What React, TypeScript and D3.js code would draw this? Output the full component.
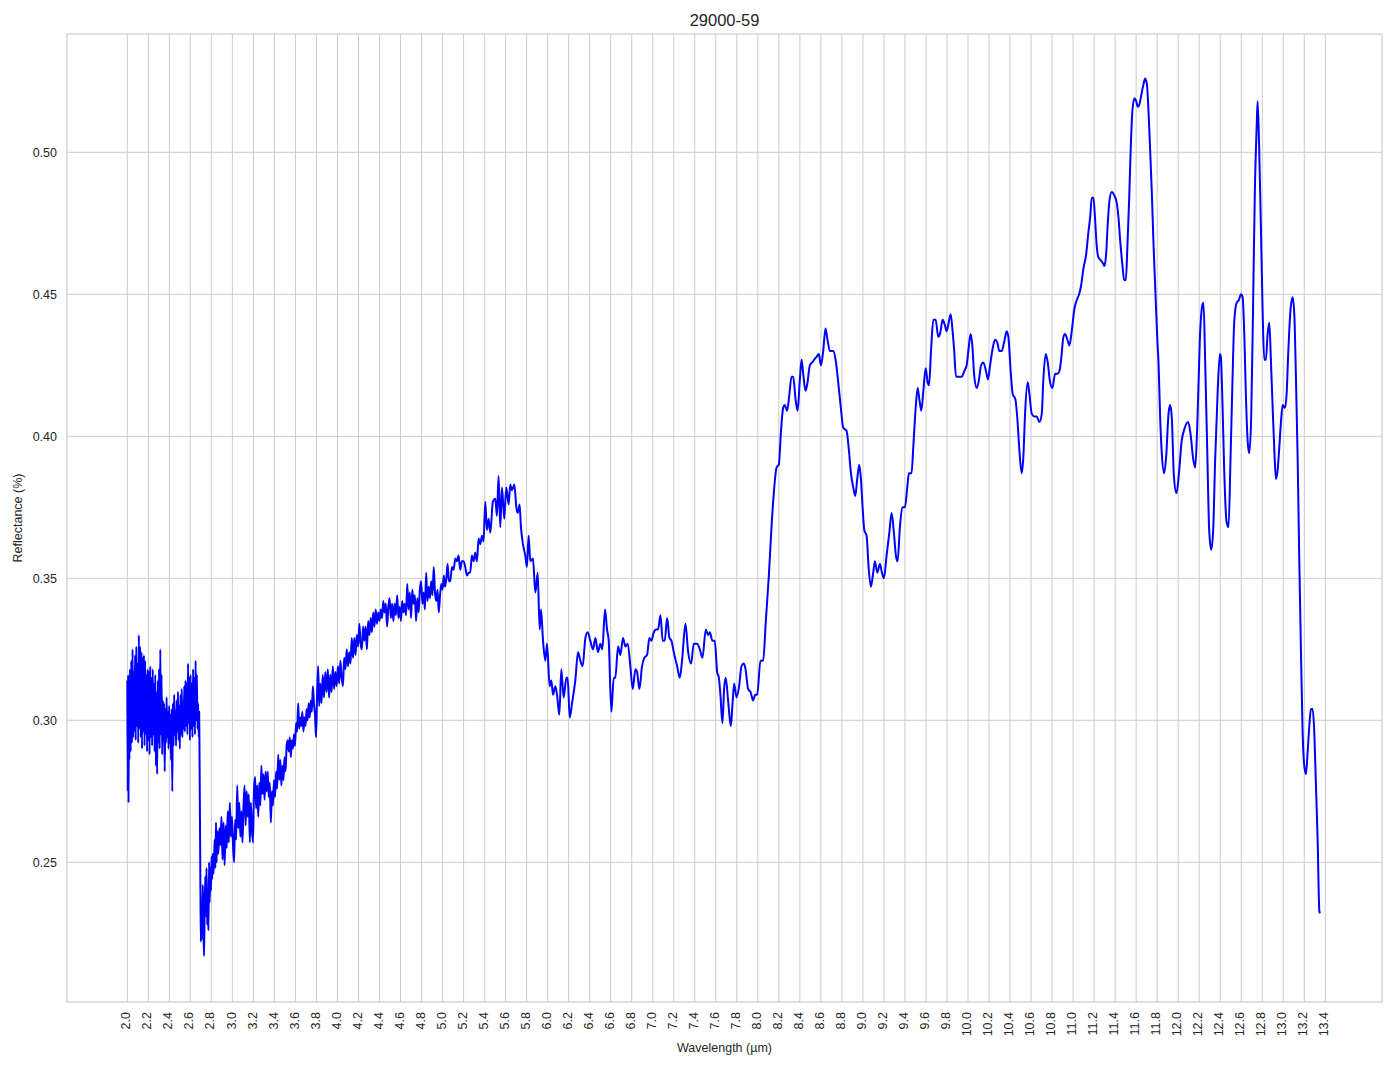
import React, { useEffect, useRef } from 'react';
import * as d3 from 'd3';

// spectrum in pieces: [wavelength µm, reflectance]
const noisyBand: [number, number][] = [
  [2.000, 0.314], [2.004, 0.275], [2.008, 0.316], [2.012, 0.271], [2.016, 0.312], [2.020, 0.286],
  [2.026, 0.318], [2.032, 0.289], [2.038, 0.321], [2.044, 0.292], [2.050, 0.325], [2.056, 0.294],
  [2.062, 0.317], [2.068, 0.296], [2.074, 0.323], [2.080, 0.293], [2.086, 0.326], [2.092, 0.298],
  [2.098, 0.320], [2.104, 0.292], [2.110, 0.330], [2.116, 0.297], [2.122, 0.326], [2.128, 0.294],
  [2.134, 0.324], [2.140, 0.290], [2.146, 0.322], [2.152, 0.296], [2.158, 0.323], [2.164, 0.291],
  [2.170, 0.321], [2.176, 0.295], [2.182, 0.316], [2.188, 0.289], [2.194, 0.318], [2.200, 0.293],
  [2.206, 0.317], [2.212, 0.288], [2.218, 0.319], [2.224, 0.294], [2.230, 0.315], [2.236, 0.291],
  [2.242, 0.318], [2.248, 0.295], [2.254, 0.313], [2.260, 0.289], [2.266, 0.316], [2.272, 0.284],
  [2.278, 0.310], [2.284, 0.281], [2.290, 0.314], [2.296, 0.292], [2.302, 0.318], [2.308, 0.290],
  [2.314, 0.325], [2.320, 0.295], [2.326, 0.316], [2.332, 0.288], [2.338, 0.307], [2.344, 0.293],
  [2.350, 0.306], [2.356, 0.282], [2.362, 0.304], [2.368, 0.292], [2.374, 0.308], [2.380, 0.294],
  [2.386, 0.303], [2.392, 0.290], [2.398, 0.305], [2.404, 0.292], [2.410, 0.302], [2.416, 0.286],
  [2.422, 0.304], [2.428, 0.275], [2.434, 0.306], [2.440, 0.291], [2.446, 0.309], [2.452, 0.295],
  [2.458, 0.303], [2.464, 0.291], [2.470, 0.307], [2.476, 0.296], [2.482, 0.310], [2.488, 0.293],
  [2.494, 0.305], [2.500, 0.290], [2.506, 0.309], [2.512, 0.295], [2.518, 0.311], [2.524, 0.294],
  [2.530, 0.306], [2.536, 0.297], [2.542, 0.312], [2.548, 0.296], [2.554, 0.314], [2.560, 0.298],
  [2.566, 0.313], [2.572, 0.295], [2.578, 0.320], [2.584, 0.299], [2.590, 0.315], [2.596, 0.293],
  [2.602, 0.316], [2.608, 0.297], [2.614, 0.313], [2.620, 0.294], [2.626, 0.318], [2.632, 0.298],
  [2.638, 0.315], [2.644, 0.295], [2.650, 0.321], [2.656, 0.300], [2.662, 0.316], [2.668, 0.297],
  [2.674, 0.306], [2.680, 0.294], [2.684, 0.303], [2.688, 0.284],
];

const absorptionDip: [number, number][] = [
  [2.692, 0.262], [2.696, 0.240], [2.700, 0.222], [2.706, 0.236], [2.712, 0.223], [2.718, 0.242],
  [2.724, 0.229], [2.730, 0.217], [2.736, 0.234], [2.742, 0.245], [2.748, 0.231], [2.754, 0.248],
  [2.760, 0.228], [2.766, 0.240], [2.772, 0.226], [2.778, 0.250], [2.784, 0.236], [2.790, 0.248],
  [2.796, 0.240], [2.802, 0.252], [2.808, 0.244], [2.814, 0.253], [2.820, 0.246], [2.826, 0.251],
  [2.832, 0.258], [2.838, 0.248], [2.844, 0.264], [2.850, 0.250],
];

const risingSlope: [number, number][] = [
  [2.856, 0.261], [2.866, 0.253], [2.876, 0.262], [2.886, 0.256], [2.896, 0.266], [2.906, 0.251],
  [2.916, 0.264], [2.926, 0.249], [2.936, 0.263], [2.946, 0.255], [2.956, 0.268], [2.966, 0.257],
  [2.976, 0.271], [2.986, 0.259], [2.996, 0.266], [3.006, 0.256], [3.016, 0.250], [3.026, 0.265],
  [3.036, 0.258], [3.046, 0.277], [3.056, 0.262], [3.066, 0.271], [3.076, 0.259], [3.086, 0.268],
  [3.096, 0.257], [3.106, 0.270], [3.116, 0.277], [3.126, 0.263], [3.136, 0.275], [3.146, 0.266],
  [3.156, 0.274], [3.166, 0.257], [3.176, 0.271], [3.186, 0.262], [3.196, 0.257], [3.206, 0.276],
  [3.216, 0.280], [3.226, 0.269], [3.236, 0.277], [3.246, 0.266], [3.256, 0.278], [3.266, 0.270],
  [3.276, 0.284], [3.286, 0.274], [3.296, 0.281], [3.306, 0.272], [3.316, 0.282], [3.326, 0.275],
  [3.336, 0.282], [3.346, 0.273], [3.356, 0.278], [3.366, 0.264], [3.376, 0.275], [3.386, 0.270],
  [3.396, 0.279], [3.406, 0.273], [3.416, 0.282], [3.426, 0.276], [3.436, 0.288], [3.446, 0.279],
  [3.456, 0.286], [3.466, 0.277], [3.476, 0.284], [3.486, 0.279], [3.496, 0.287], [3.506, 0.282],
  [3.516, 0.291], [3.526, 0.293], [3.536, 0.289], [3.546, 0.294], [3.556, 0.287], [3.566, 0.293],
  [3.576, 0.290], [3.586, 0.295], [3.596, 0.291], [3.606, 0.299], [3.616, 0.296], [3.626, 0.306],
  [3.636, 0.297], [3.646, 0.301], [3.656, 0.298], [3.666, 0.303], [3.676, 0.296], [3.686, 0.301],
  [3.696, 0.298], [3.706, 0.304], [3.716, 0.300], [3.726, 0.306], [3.736, 0.301], [3.746, 0.307],
  [3.756, 0.303], [3.766, 0.312], [3.776, 0.306], [3.786, 0.302], [3.796, 0.294], [3.806, 0.309],
  [3.816, 0.319], [3.826, 0.305], [3.836, 0.313], [3.848, 0.306], [3.860, 0.316], [3.872, 0.308],
  [3.884, 0.317], [3.896, 0.310], [3.908, 0.318], [3.920, 0.308], [3.932, 0.316], [3.944, 0.310],
  [3.956, 0.319], [3.968, 0.311], [3.980, 0.317], [3.992, 0.312], [4.004, 0.319], [4.016, 0.313],
  [4.028, 0.321], [4.040, 0.315], [4.052, 0.312], [4.064, 0.322], [4.076, 0.318], [4.088, 0.325],
  [4.100, 0.319], [4.112, 0.324], [4.124, 0.320], [4.136, 0.329], [4.148, 0.322], [4.160, 0.329],
  [4.172, 0.323], [4.184, 0.330], [4.196, 0.326], [4.208, 0.334], [4.220, 0.327], [4.232, 0.325],
  [4.244, 0.333], [4.256, 0.328], [4.268, 0.333], [4.280, 0.325], [4.292, 0.335], [4.304, 0.330],
  [4.316, 0.336], [4.328, 0.331], [4.340, 0.338], [4.352, 0.333], [4.364, 0.339], [4.376, 0.334],
  [4.388, 0.338], [4.400, 0.335], [4.412, 0.339], [4.424, 0.336], [4.436, 0.342], [4.448, 0.338],
  [4.460, 0.341], [4.472, 0.333], [4.484, 0.340], [4.496, 0.343], [4.508, 0.336], [4.520, 0.341],
  [4.532, 0.335], [4.544, 0.341], [4.556, 0.337], [4.568, 0.344], [4.580, 0.336], [4.592, 0.340],
  [4.604, 0.335], [4.616, 0.342], [4.628, 0.338], [4.640, 0.341], [4.652, 0.337], [4.664, 0.348],
  [4.676, 0.339], [4.688, 0.345], [4.700, 0.336], [4.712, 0.346], [4.724, 0.341], [4.736, 0.344],
  [4.748, 0.335], [4.760, 0.343], [4.772, 0.338], [4.784, 0.346], [4.796, 0.349], [4.808, 0.341],
  [4.820, 0.345], [4.832, 0.339], [4.844, 0.352], [4.856, 0.342], [4.868, 0.347], [4.880, 0.343],
  [4.892, 0.349], [4.904, 0.344], [4.916, 0.354], [4.928, 0.345], [4.940, 0.342], [4.952, 0.346],
  [4.964, 0.338], [4.976, 0.344], [4.988, 0.348], [5.000, 0.346], [5.012, 0.351], [5.024, 0.347],
  [5.036, 0.350], [5.048, 0.355], [5.060, 0.349], [5.073, 0.349], [5.089, 0.354], [5.105, 0.353],
  [5.121, 0.357], [5.137, 0.356], [5.152, 0.358], [5.168, 0.353], [5.184, 0.356], [5.200, 0.356],
  [5.216, 0.354], [5.232, 0.351], [5.248, 0.352], [5.263, 0.352], [5.279, 0.358], [5.295, 0.356],
  [5.311, 0.359], [5.327, 0.356],
];

const plateauPeak: [number, number][] = [
  [5.343, 0.364], [5.359, 0.362], [5.375, 0.365], [5.390, 0.363], [5.406, 0.377], [5.422, 0.367],
  [5.438, 0.371], [5.454, 0.366], [5.479, 0.377], [5.502, 0.378], [5.517, 0.372], [5.533, 0.386],
  [5.549, 0.368], [5.565, 0.382], [5.587, 0.371], [5.606, 0.382], [5.629, 0.376], [5.644, 0.383],
  [5.660, 0.381], [5.683, 0.383], [5.702, 0.375], [5.717, 0.373], [5.733, 0.376], [5.746, 0.368],
  [5.765, 0.362], [5.787, 0.358], [5.803, 0.354], [5.819, 0.365], [5.835, 0.356], [5.860, 0.357],
  [5.883, 0.345], [5.905, 0.352], [5.924, 0.332], [5.937, 0.339], [5.956, 0.328], [5.978, 0.321],
  [5.994, 0.327],
];

const midRange: [number, number][] = [
  [6.019, 0.312], [6.035, 0.314], [6.051, 0.309], [6.073, 0.312], [6.089, 0.309], [6.111, 0.302],
  [6.130, 0.318], [6.152, 0.308], [6.178, 0.315], [6.190, 0.315], [6.210, 0.301], [6.232, 0.306],
  [6.263, 0.314], [6.289, 0.324], [6.311, 0.321], [6.333, 0.319], [6.359, 0.329], [6.381, 0.331],
  [6.406, 0.328], [6.432, 0.325], [6.454, 0.329], [6.479, 0.324], [6.502, 0.327], [6.520, 0.325],
  [6.546, 0.339], [6.565, 0.332], [6.581, 0.328], [6.606, 0.303], [6.629, 0.315], [6.644, 0.315],
  [6.670, 0.326], [6.692, 0.323], [6.717, 0.329], [6.740, 0.326], [6.762, 0.327], [6.787, 0.319],
  [6.810, 0.311], [6.835, 0.318], [6.851, 0.317], [6.873, 0.311], [6.898, 0.319], [6.920, 0.322],
  [6.946, 0.323], [6.968, 0.329], [6.987, 0.328], [7.010, 0.331], [7.032, 0.332], [7.051, 0.332],
  [7.073, 0.337], [7.095, 0.328], [7.114, 0.328], [7.137, 0.336], [7.159, 0.329], [7.178, 0.328],
  [7.200, 0.324], [7.232, 0.319], [7.257, 0.315], [7.279, 0.321], [7.311, 0.334], [7.337, 0.324],
  [7.365, 0.320], [7.390, 0.327], [7.422, 0.327], [7.448, 0.325], [7.473, 0.322], [7.505, 0.332],
  [7.527, 0.330], [7.543, 0.331], [7.568, 0.328], [7.590, 0.328], [7.613, 0.317], [7.629, 0.315],
  [7.644, 0.309], [7.663, 0.299], [7.679, 0.311], [7.695, 0.315], [7.717, 0.307], [7.743, 0.298],
  [7.756, 0.304], [7.775, 0.313], [7.797, 0.308], [7.822, 0.312], [7.844, 0.319], [7.867, 0.320],
  [7.883, 0.318], [7.908, 0.311], [7.930, 0.310], [7.956, 0.307], [7.975, 0.309], [7.994, 0.309],
];

const longwave: [number, number][] = [
  [8.025, 0.321], [8.051, 0.321], [8.076, 0.335], [8.105, 0.351], [8.130, 0.368], [8.152, 0.380],
  [8.178, 0.389], [8.200, 0.390], [8.219, 0.401], [8.241, 0.410], [8.257, 0.411], [8.279, 0.409],
  [8.298, 0.414], [8.321, 0.421], [8.337, 0.421], [8.359, 0.413], [8.378, 0.409], [8.400, 0.420],
  [8.416, 0.427], [8.432, 0.422], [8.454, 0.416], [8.473, 0.419], [8.495, 0.425], [8.517, 0.426],
  [8.537, 0.427], [8.559, 0.428], [8.581, 0.429], [8.600, 0.425], [8.622, 0.430], [8.644, 0.438],
  [8.663, 0.434], [8.686, 0.430], [8.717, 0.430], [8.740, 0.427], [8.765, 0.419], [8.790, 0.410],
  [8.813, 0.403], [8.844, 0.402], [8.867, 0.395], [8.886, 0.387], [8.908, 0.382], [8.927, 0.379],
  [8.946, 0.385], [8.965, 0.390], [8.981, 0.385], [8.997, 0.375], [9.013, 0.367], [9.035, 0.365],
  [9.054, 0.354], [9.076, 0.347], [9.098, 0.352], [9.114, 0.356], [9.137, 0.352], [9.162, 0.355],
  [9.181, 0.352], [9.200, 0.350], [9.225, 0.358], [9.251, 0.366], [9.273, 0.373], [9.295, 0.366],
  [9.314, 0.358], [9.330, 0.356], [9.352, 0.368], [9.375, 0.375], [9.400, 0.375], [9.422, 0.382],
  [9.438, 0.387], [9.463, 0.387], [9.479, 0.396], [9.502, 0.410], [9.521, 0.417], [9.537, 0.413],
  [9.556, 0.409], [9.575, 0.416], [9.597, 0.424], [9.616, 0.419], [9.629, 0.418], [9.648, 0.430],
  [9.670, 0.441], [9.692, 0.441], [9.717, 0.435], [9.733, 0.436], [9.759, 0.441], [9.781, 0.439],
  [9.797, 0.437], [9.816, 0.440], [9.835, 0.443], [9.851, 0.438], [9.867, 0.431], [9.886, 0.421],
  [9.908, 0.421], [9.940, 0.421], [9.965, 0.423], [9.987, 0.425], [10.003, 0.430], [10.025, 0.436],
  [10.041, 0.432], [10.060, 0.421], [10.083, 0.417], [10.105, 0.420], [10.124, 0.425], [10.146, 0.426],
  [10.171, 0.423], [10.190, 0.420], [10.210, 0.425], [10.235, 0.431], [10.257, 0.434], [10.279, 0.433],
  [10.298, 0.430], [10.320, 0.430], [10.343, 0.433], [10.368, 0.437], [10.384, 0.435], [10.406, 0.423],
  [10.425, 0.415], [10.451, 0.413], [10.470, 0.406], [10.489, 0.395], [10.511, 0.387], [10.527, 0.393],
  [10.543, 0.408], [10.568, 0.419], [10.584, 0.415], [10.606, 0.408], [10.632, 0.407], [10.654, 0.407],
  [10.679, 0.405], [10.702, 0.408], [10.717, 0.420], [10.740, 0.429], [10.759, 0.426], [10.781, 0.419],
  [10.803, 0.417], [10.829, 0.422], [10.851, 0.422], [10.870, 0.423], [10.886, 0.427], [10.908, 0.435],
  [10.924, 0.436], [10.946, 0.434], [10.965, 0.432], [10.987, 0.437], [11.013, 0.445], [11.035, 0.448],
  [11.057, 0.450], [11.076, 0.453], [11.098, 0.459], [11.124, 0.464], [11.146, 0.472], [11.162, 0.477],
  [11.178, 0.484], [11.194, 0.484], [11.210, 0.476], [11.225, 0.467], [11.241, 0.463], [11.263, 0.462],
  [11.283, 0.461], [11.298, 0.460], [11.314, 0.464], [11.330, 0.475], [11.346, 0.483], [11.368, 0.486],
  [11.390, 0.485], [11.416, 0.482], [11.432, 0.477], [11.448, 0.469], [11.470, 0.460], [11.486, 0.455],
  [11.502, 0.455], [11.517, 0.467], [11.533, 0.483], [11.549, 0.502], [11.565, 0.515], [11.584, 0.519],
  [11.600, 0.518], [11.616, 0.516], [11.632, 0.517], [11.648, 0.520], [11.670, 0.524], [11.686, 0.526],
  [11.702, 0.524], [11.717, 0.515], [11.733, 0.501], [11.749, 0.486], [11.765, 0.468], [11.784, 0.450],
  [11.803, 0.433], [11.813, 0.426], [11.829, 0.406], [11.844, 0.394], [11.867, 0.387], [11.886, 0.393],
  [11.908, 0.408], [11.924, 0.411], [11.940, 0.406], [11.959, 0.386], [11.984, 0.380], [12.010, 0.388],
  [12.032, 0.398], [12.063, 0.403], [12.095, 0.405], [12.117, 0.401], [12.143, 0.392], [12.162, 0.389],
  [12.181, 0.403], [12.206, 0.434], [12.229, 0.446], [12.241, 0.447], [12.257, 0.426], [12.276, 0.396],
  [12.295, 0.367], [12.314, 0.360], [12.333, 0.367], [12.352, 0.392], [12.375, 0.415], [12.397, 0.429],
  [12.406, 0.428], [12.422, 0.411], [12.438, 0.388], [12.460, 0.370], [12.479, 0.368], [12.498, 0.392],
  [12.517, 0.420], [12.533, 0.440], [12.556, 0.447], [12.578, 0.448], [12.597, 0.450], [12.613, 0.449],
  [12.629, 0.436], [12.644, 0.415], [12.660, 0.399], [12.676, 0.394], [12.695, 0.407], [12.714, 0.449],
  [12.730, 0.487], [12.746, 0.508], [12.756, 0.518], [12.771, 0.501], [12.787, 0.474], [12.803, 0.445],
  [12.819, 0.427], [12.835, 0.427], [12.851, 0.436], [12.867, 0.440], [12.883, 0.426], [12.898, 0.411],
  [12.914, 0.396], [12.930, 0.385], [12.946, 0.388], [12.962, 0.396], [12.978, 0.405], [12.994, 0.411],
  [13.016, 0.410], [13.032, 0.415], [13.048, 0.430], [13.070, 0.445], [13.089, 0.449], [13.105, 0.443],
  [13.121, 0.420], [13.137, 0.392], [13.152, 0.357], [13.168, 0.325], [13.184, 0.296], [13.200, 0.284],
  [13.216, 0.281], [13.232, 0.289], [13.248, 0.298], [13.263, 0.304], [13.279, 0.304], [13.295, 0.296],
  [13.311, 0.277], [13.327, 0.258], [13.343, 0.233], [13.349, 0.232],
];

const spectrum = [...noisyBand, ...absorptionDip, ...risingSlope, ...plateauPeak, ...midRange, ...longwave];

const xTicks = d3.range(0, 58).map(i => +(2.0 + i * 0.2).toFixed(1));
const yTicks = [0.25, 0.30, 0.35, 0.40, 0.45, 0.50];

const App: React.FC = () => {
  const svgRef = useRef<SVGSVGElement>(null);
  const width = 1394;
  const height = 1069;

  useEffect(() => {
    if (!svgRef.current) return;
    const margin = { top: 34, right: 12, bottom: 67, left: 67 };
    const innerW = width - margin.left - margin.right;
    const innerH = height - margin.top - margin.bottom;

    const root = d3.select(svgRef.current);
    root.selectAll('*').remove();

    const g = root.append('g').attr('transform', `translate(${margin.left},${margin.top})`);

    const x = d3.scaleLinear().domain([1.4262, 13.9395]).range([0, innerW]);
    const y = d3.scaleLinear().domain([0.20081, 0.54166]).range([innerH, 0]);

    const font = '"Liberation Sans", Arial, sans-serif';
    const textColor = '#262626';
    const gridColor = '#cccccc';

    // grid
    g.append('g').selectAll('line').data(xTicks).join('line')
      .attr('x1', d => x(d)).attr('x2', d => x(d))
      .attr('y1', 0).attr('y2', innerH)
      .attr('stroke', gridColor).attr('stroke-width', 1);
    g.append('g').selectAll('line').data(yTicks).join('line')
      .attr('x1', 0).attr('x2', innerW)
      .attr('y1', d => y(d)).attr('y2', d => y(d))
      .attr('stroke', gridColor).attr('stroke-width', 1);

    // frame
    g.append('rect').attr('x', 0).attr('y', 0).attr('width', innerW).attr('height', innerH)
      .attr('fill', 'none').attr('stroke', gridColor).attr('stroke-width', 1.2);

    // spectrum line
    const line = d3.line<[number, number]>()
      .x(d => x(d[0]))
      .y(d => y(d[1]))
      .curve(d3.curveMonotoneX);
    g.append('path').datum(spectrum)
      .attr('fill', 'none').attr('stroke', '#0000ff').attr('stroke-width', 2)
      .attr('stroke-linejoin', 'round')
      .attr('d', line);

    // x tick labels, rotated
    g.append('g').selectAll('text').data(xTicks).join('text')
      .attr('transform', d => `translate(${x(d)},${innerH + 10}) rotate(-90)`)
      .attr('text-anchor', 'end').attr('dy', '0.25em')
      .attr('font-family', font).attr('font-size', 12.5).attr('fill', textColor)
      .text(d => d.toFixed(1));

    // y tick labels
    g.append('g').selectAll('text').data(yTicks).join('text')
      .attr('x', -10).attr('y', d => y(d)).attr('dy', '0.35em')
      .attr('text-anchor', 'end')
      .attr('font-family', font).attr('font-size', 12.5).attr('fill', textColor)
      .text(d => d.toFixed(2));

    // labels and title
    root.append('text')
      .attr('x', margin.left + innerW / 2).attr('y', 1052)
      .attr('text-anchor', 'middle')
      .attr('font-family', font).attr('font-size', 12.5).attr('fill', textColor)
      .text('Wavelength (µm)');
    root.append('text')
      .attr('transform', `translate(22,${margin.top + innerH / 2}) rotate(-90)`)
      .attr('text-anchor', 'middle')
      .attr('font-family', font).attr('font-size', 12.5).attr('fill', textColor)
      .text('Reflectance (%)');
    root.append('text')
      .attr('x', margin.left + innerW / 2).attr('y', 26)
      .attr('text-anchor', 'middle')
      .attr('font-family', font).attr('font-size', 16.5).attr('fill', textColor)
      .text('29000-59');
  }, []);

  return (
    <svg
      ref={svgRef}
      width={width}
      height={height}
      style={{ position: 'absolute', left: 0, top: 0, background: '#fff' }}
    />
  );
};

export default App;
